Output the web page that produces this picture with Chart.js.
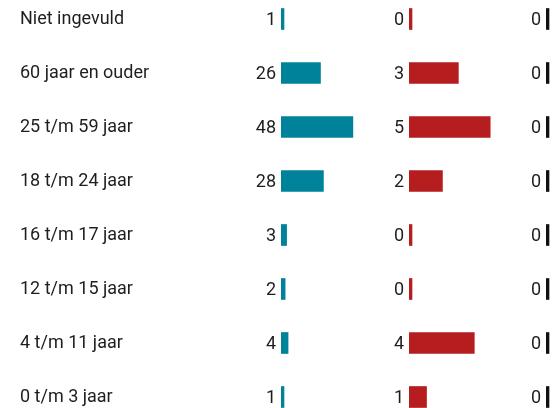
<!DOCTYPE html>
<html>
<head>
<meta charset="utf-8">
<script src="https://cdn.jsdelivr.net/npm/chart.js@4"></script>
<style>
  html, body { margin: 0; padding: 0; background: #fff; }
  #wrap { position: relative; width: 556px; height: 408px; overflow: hidden; }
  #wrap canvas { position: absolute; top: -8px; }
</style>
</head>
<body>
<div id="wrap">
  <canvas id="chart-kol1" width="400" height="432" style="left:0px"></canvas>
  <canvas id="chart-kol2" width="150" height="432" style="left:380px"></canvas>
  <canvas id="chart-kol3" width="55" height="432" style="left:500px"></canvas>
</div>
<script>
// Leeftijdsgroepen (van boven naar beneden)
const categorieen = ['Niet ingevuld', '60 jaar en ouder', '25 t/m 59 jaar', '18 t/m 24 jaar',
    '16 t/m 17 jaar', '12 t/m 15 jaar', '4 t/m 11 jaar', '0 t/m 3 jaar'];

// Waarden per kolom
const waardenKolom1 = [1, 26, 48, 28, 3, 2, 4, 1];
const waardenKolom2 = [0, 3, 5, 2, 0, 0, 4, 1];
const waardenKolom3 = [0, 0, 0, 0, 0, 0, 0, 0];

const TEKSTKLEUR = '#1e1e1e';
const LETTERGROOTTE = 18;
Chart.defaults.font.family = 'Roboto';
Chart.defaults.font.size = LETTERGROOTTE;
Chart.defaults.color = TEKSTKLEUR;

// Plugin: waarde links van de balk
const waardeLabels = {
    id: 'waardeLabels',
    afterDatasetsDraw(chart) {
        const ctx = chart.ctx;
        const meta = chart.getDatasetMeta(0);
        const data = chart.data.datasets[0].data;
        ctx.save();
        ctx.font = LETTERGROOTTE + 'px Roboto';
        ctx.fillStyle = TEKSTKLEUR;
        ctx.textAlign = 'right';
        ctx.textBaseline = 'middle';
        meta.data.forEach((bar, i) => {
            ctx.fillText(String(data[i]), Math.min(bar.x, bar.base) - 5, bar.y + 1);
        });
        ctx.restore();
    }
};

function maakKolom(id, waarden, kleur, opties) {
    const ctx = document.getElementById(id).getContext('2d');
    return new Chart(ctx, {
        type: 'bar',
        data: {
            labels: categorieen,
            datasets: [{
                data: waarden,
                backgroundColor: kleur,
                base: opties.base,
                minBarLength: 3,
                barThickness: 21
            }]
        },
        options: {
            indexAxis: 'y',
            responsive: false,
            animation: false,
            devicePixelRatio: 1,
            layout: { padding: { left: opties.padLinks, right: 0, top: 0, bottom: 0 } },
            plugins: { legend: { display: false }, tooltip: { enabled: false } },
            scales: {
                x: { display: false, min: opties.min, max: opties.max },
                y: {
                    display: opties.toonLabels,
                    grid: { display: false },
                    border: { display: false },
                    ticks: { crossAlign: 'far', color: TEKSTKLEUR, font: { size: LETTERGROOTTE } },
                    afterFit: opties.toonLabels ? (s) => {
                        s.width = 261;
                        s.paddingTop = 0;
                        s.paddingBottom = 0;
                    } : undefined
                }
            }
        },
        plugins: [waardeLabels]
    });
}

maakKolom('chart-kol1', waardenKolom1, '#00829a', { min: -0.8, max: 80, base: -0.8, padLinks: 20, toonLabels: true });
maakKolom('chart-kol2', waardenKolom2, '#b51d1f', { min: -0.1, max: 7.5, base: -0.1, padLinks: 29, toonLabels: false });
maakKolom('chart-kol3', waardenKolom3, '#111111', { min: -1, max: 2, base: -1, padLinks: 46, toonLabels: false });
</script>
</body>
</html>
